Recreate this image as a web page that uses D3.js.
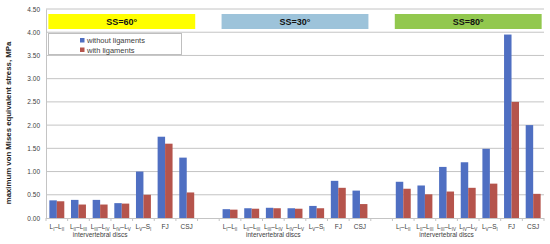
<!DOCTYPE html>
<html>
<head>
<meta charset="utf-8">
<script src="https://cdn.jsdelivr.net/npm/d3@7"></script>
<style>
  body { margin: 0; background: #fff; }
  svg { font-family: "Liberation Sans", Arial, sans-serif; }
</style>
</head>
<body>
<svg></svg>
<script>
// data
var groups = ["SS=60°", "SS=30°", "SS=80°"];
var groupColors = ["#ffff00", "#9dc3da", "#92c84e"];
var series = ["without ligaments", "with ligaments"];
var seriesColors = ["#4f6fc2", "#b5544c"];
var categories = ["LI-LII", "LII-LIII", "LIII-LIV", "LIV-LV", "LV-SI", "FJ", "CSJ"];
// label parts: [text, subscript?]
var catLabels = [
  [["L",0],["I",1],["–L",0],["II",1]],
  [["L",0],["II",1],["–L",0],["III",1]],
  [["L",0],["III",1],["–L",0],["IV",1]],
  [["L",0],["IV",1],["–L",0],["V",1]],
  [["L",0],["V",1],["–S",0],["I",1]],
  [["FJ",0]],
  [["CSJ",0]]
];
var withoutLig = [
  [0.38, 0.39, 0.39, 0.32, 1.00, 1.75, 1.30],
  [0.19, 0.21, 0.22, 0.21, 0.26, 0.80, 0.59],
  [0.78, 0.70, 1.10, 1.20, 1.49, 3.95, 2.00]
];
var withLig = [
  [0.36, 0.29, 0.29, 0.31, 0.50, 1.60, 0.55],
  [0.18, 0.20, 0.21, 0.20, 0.21, 0.65, 0.30],
  [0.63, 0.51, 0.57, 0.65, 0.74, 2.50, 0.52]
];
var yTicks = [0, 0.5, 1, 1.5, 2, 2.5, 3, 3.5, 4, 4.5];

var screen = {width: 550, height: 244};
var margins = {top: 9, bottom: 26, left: 46, right: 6};
var width = screen.width - margins.left - margins.right;
var height = screen.height - margins.top - margins.bottom;

var svg = d3.select('svg')
  .attr('width', screen.width)
  .attr('height', screen.height);

// slots: 7 categories per group with one empty slot between groups
var slots = [];
groups.forEach(function(g, gi){
  if (gi > 0) slots.push("gap" + gi);
  categories.forEach(function(c){ slots.push(gi + "|" + c); });
});

var xScale = d3.scaleBand()
  .domain(slots)
  .range([0, width])
  .paddingInner(0.31)
  .paddingOuter(0.155);
var xSub = d3.scaleBand()
  .domain(series)
  .range([0, xScale.bandwidth()]);
var yScale = d3.scaleLinear()
  .domain([0, 4.5])
  .range([height, 0]);

var plot = svg.append('g')
  .attr('transform', 'translate(' + margins.left + ',' + margins.top + ')');

// grid
plot.append('g').selectAll('line')
  .data(yTicks.slice(1))
  .enter().append('line')
  .attr('x1', 0).attr('x2', width)
  .attr('y1', function(d){ return yScale(d); })
  .attr('y2', function(d){ return yScale(d); })
  .attr('stroke', '#c4c4c4')
  .attr('stroke-width', 1);

// y axis
var yAxis = d3.axisLeft(yScale)
  .tickValues(yTicks)
  .tickFormat(d3.format('.2f'))
  .tickSize(0)
  .tickPadding(6);
var yA = plot.append('g').call(yAxis);
yA.select('.domain').attr('stroke', '#c4c4c4');
yA.selectAll('text').attr('font-size', 6.5).attr('fill', '#404040');

// bars
var rows = [];
groups.forEach(function(g, gi){
  categories.forEach(function(c, ci){
    rows.push({slot: gi + "|" + c, s: series[0], v: withoutLig[gi][ci], col: seriesColors[0]});
    rows.push({slot: gi + "|" + c, s: series[1], v: withLig[gi][ci], col: seriesColors[1]});
  });
});
plot.append('g').selectAll('rect')
  .data(rows)
  .enter().append('rect')
  .attr('x', function(d){ return xScale(d.slot) + xSub(d.s); })
  .attr('y', function(d){ return yScale(d.v); })
  .attr('width', xSub.bandwidth())
  .attr('height', function(d){ return height - yScale(d.v); })
  .attr('fill', function(d){ return d.col; });

// x axis line + ticks at slot boundaries
plot.append('line')
  .attr('x1', 0).attr('x2', width)
  .attr('y1', height + 0.5).attr('y2', height + 0.5)
  .attr('stroke', '#c4c4c4');
var step = xScale.step();
plot.append('g').selectAll('line')
  .data(d3.range(slots.length + 1))
  .enter().append('line')
  .attr('x1', function(i){ return i * step; })
  .attr('x2', function(i){ return i * step; })
  .attr('y1', height).attr('y2', height + 3)
  .attr('stroke', '#c4c4c4');

// category labels
groups.forEach(function(g, gi){
  categories.forEach(function(c, ci){
    var t = plot.append('text')
      .attr('x', xScale(gi + "|" + c) + xScale.bandwidth() / 2)
      .attr('y', height + 11)
      .attr('text-anchor', 'middle')
      .attr('font-size', 6.5)
      .attr('fill', '#404040');
    catLabels[ci].forEach(function(p){
      var ts = t.append('tspan').text(p[0]);
      if (p[1]) ts.attr('font-size', 4.5).attr('dy', 1.5);
      else ts.attr('dy', 0);
    });
    // reset baseline after subscripts
    t.selectAll('tspan').each(function(d, i, nodes){
      var prevSub = i > 0 && catLabels[ci][i-1][1];
      if (!catLabels[ci][i][1] && prevSub) d3.select(this).attr('dy', -1.5);
      if (catLabels[ci][i][1] && i > 0 && catLabels[ci][i-1][1]) d3.select(this).attr('dy', 0);
    });
  });
  var first = xScale(gi + "|" + categories[0]);
  var last = xScale(gi + "|" + categories[4]) + xScale.bandwidth();
  plot.append('text')
    .attr('x', (first + last) / 2)
    .attr('y', height + 19)
    .attr('text-anchor', 'middle')
    .attr('font-size', 6.5)
    .attr('fill', '#404040')
    .text('intervertebral discs');

  // group header boxes
  var gx0 = xScale(gi + "|" + categories[0]) - 1;
  var gx1 = xScale(gi + "|" + categories[6]) + xScale.bandwidth() + 1;
  plot.append('rect')
    .attr('x', gx0).attr('y', 5)
    .attr('width', gx1 - gx0).attr('height', 15)
    .attr('fill', groupColors[gi]);
  plot.append('text')
    .attr('x', (gx0 + gx1) / 2).attr('y', 15.5)
    .attr('text-anchor', 'middle')
    .attr('font-size', 9)
    .attr('font-weight', 'bold')
    .attr('fill', '#111')
    .text(g);
});

// legend
var leg = svg.append('g');
leg.append('rect')
  .attr('x', 48.5).attr('y', 33.5)
  .attr('width', 133).attr('height', 21)
  .attr('fill', '#fff')
  .attr('stroke', '#bfbfbf');
series.forEach(function(s, i){
  leg.append('rect')
    .attr('x', 80).attr('y', 38 + i * 9.5)
    .attr('width', 4.5).attr('height', 4.5)
    .attr('fill', seriesColors[i]);
  leg.append('text')
    .attr('x', 87).attr('y', 43 + i * 9.5)
    .attr('font-size', 7.5)
    .attr('fill', '#404040')
    .text(s);
});

// y title
svg.append('text')
  .attr('transform', 'translate(11,123) rotate(-90)')
  .attr('text-anchor', 'middle')
  .attr('font-size', 7.8)
  .attr('font-weight', 'bold')
  .attr('fill', '#222')
  .text('maximum von Mises equivalent stress, MPa');
</script>
</body>
</html>
